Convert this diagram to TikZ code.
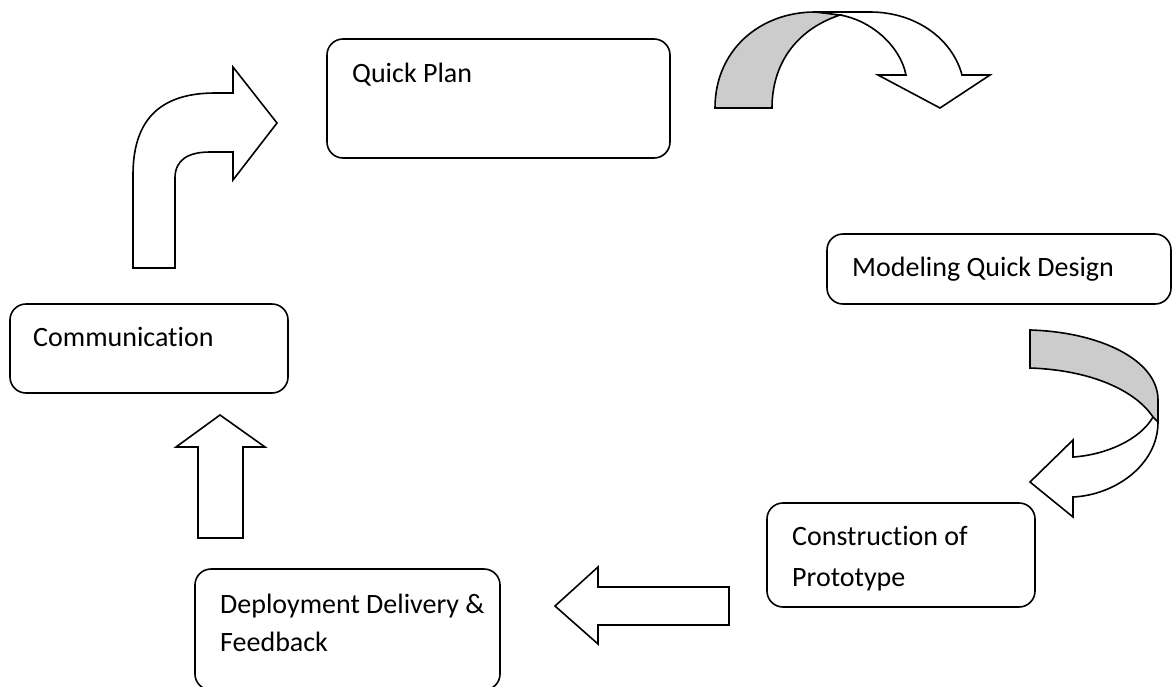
\documentclass[tikz,border=0pt]{standalone}
\usepackage{fontspec}
\setmainfont{Carlito}[Ligatures=NoCommon]

\begin{document}
\begin{tikzpicture}[x=1pt,y=-1pt,
		box/.style={draw,rounded corners=16pt,line width=1.6pt,inner sep=0pt},
		lbl/.style={anchor=base west,align=left,inner sep=0pt,font=\fontsize{28}{41}\selectfont},
		arr/.style={draw,line width=1.6pt,line join=miter},
		ribbon/.style={arr,fill=black!20}]
		\useasboundingbox (0,0) rectangle (1173,686);
		
		% the boxes of the cycle
		\foreach \name/\cx/\cy/\w/\h in {plan/498.5/98.5/343/119,design/999/269/344/70,comm/149/348.5/278/89,proto/901/555/268/104,deploy/347.5/629.5/305/121}
		{
			\node[box,minimum width=\w,minimum height=\h] (\name) at (\cx,\cy) {};
		}
		% their labels (base = last line)
		\node[lbl] (plan text) at (352,82) {Quick Plan};
		\node[lbl] (design text) at (852,276) {Modeling Quick Design};
		\node[lbl] (comm text) at (33,346) {Communication};
		\node[lbl] (proto text) at (792,586) {Construction of\\Prototype};
		\node[lbl,font=\fontsize{28}{38}\selectfont] (deploy text) at (220,651) {Deployment Delivery \&\\Feedback};
		
		% bent arrow from communication to quick plan
		\draw[arr] (133,268) -- (133,175) .. controls (133,125) and (155,93) .. (215,93)
		-- (233,93) -- (233,67) -- (277,123) -- (233,180) -- (233,152) -- (210,152)
		.. controls (188,152) and (175,160) .. (175,178) -- (175,268) -- cycle;
		
		% ribbon arrow from quick plan to modeling
		\draw[ribbon] (715,108) .. controls (715,50) and (760,12) .. (815,12) -- (840,15)
		.. controls (795,30) and (772,65) .. (772,108) -- cycle;
		\draw[arr] (815,12) -- (870,12) .. controls (915,12) and (952,38) .. (962,75)
		-- (990,75) -- (940,108) -- (878,75) -- (906,75)
		.. controls (900,45) and (870,20) .. (840,15);
		
		% ribbon arrow from modeling to construction
		\draw[ribbon] (1030,330) .. controls (1100,332) and (1158,360) .. (1158,400) -- (1158,422)
		-- (1153,417) .. controls (1135,390) and (1090,370) .. (1030,368) -- cycle;
		\draw[arr] (1158,422) .. controls (1158,465) and (1115,495) .. (1073,497)
		-- (1073,517) -- (1030,482) -- (1073,440) -- (1073,457)
		.. controls (1105,455) and (1140,440) .. (1153,417);
		
		% straight arrows
		\draw[arr] (729,587) -- (598,587) -- (598,567) -- (555,606) -- (598,644) -- (598,625) -- (729,625) -- cycle;
		\draw[arr] (198,538) -- (198,447) -- (176,447) -- (220,415) -- (265,447) -- (243,447) -- (243,538) -- cycle;
	\end{tikzpicture}
\end{document}
